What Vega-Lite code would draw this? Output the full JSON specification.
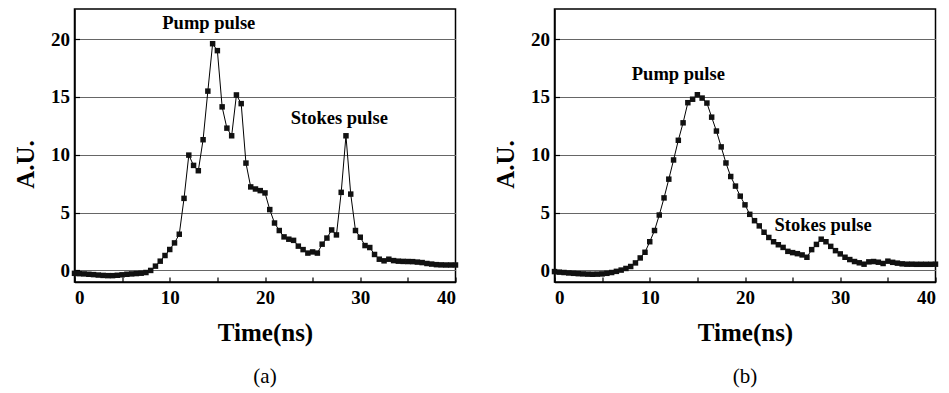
{
  "$schema": "https://vega.github.io/schema/vega-lite/v6.json",
  "background": "white",
  "padding": {"top": 8, "left": 12.5, "right": 2, "bottom": 5},
  "spacing": 33,
  "config": {
    "view": {"stroke": "black", "strokeWidth": 1.5},
    "font": "Liberation Serif",
    "axis": {
      "labelFont": "Liberation Serif", "labelFontWeight": "bold", "labelFontSize": 19, "labelColor": "black",
      "titleFont": "Liberation Serif", "titleFontWeight": "bold", "titleFontSize": 25, "titleColor": "black",
      "domainColor": "black", "domainWidth": 1.5, "tickColor": "black", "tickWidth": 1.2, "tickSize": -5,
      "gridColor": "#666", "gridWidth": 1
    }
  },
  "datasets": {
    "pts": [
      {"panel":"a","t":0,"v":-0.25},{"panel":"a","t":0.5,"v":-0.28},{"panel":"a","t":1,"v":-0.3},{"panel":"a","t":1.5,"v":-0.33},{"panel":"a","t":2,"v":-0.36},{"panel":"a","t":2.5,"v":-0.4},{"panel":"a","t":3,"v":-0.43},{"panel":"a","t":3.5,"v":-0.45},{"panel":"a","t":4,"v":-0.45},{"panel":"a","t":4.5,"v":-0.42},{"panel":"a","t":5,"v":-0.38},{"panel":"a","t":5.5,"v":-0.33},{"panel":"a","t":6,"v":-0.3},{"panel":"a","t":6.5,"v":-0.27},{"panel":"a","t":7,"v":-0.24},{"panel":"a","t":7.5,"v":-0.18},{"panel":"a","t":8,"v":0.0},{"panel":"a","t":8.5,"v":0.37},{"panel":"a","t":9,"v":0.8},{"panel":"a","t":9.5,"v":1.29},{"panel":"a","t":10,"v":1.81},{"panel":"a","t":10.5,"v":2.38},{"panel":"a","t":11,"v":3.13},{"panel":"a","t":11.5,"v":6.23},{"panel":"a","t":12,"v":9.97},{"panel":"a","t":12.5,"v":9.08},{"panel":"a","t":13,"v":8.62},{"panel":"a","t":13.5,"v":11.3},{"panel":"a","t":14,"v":15.5},{"panel":"a","t":14.5,"v":19.6},{"panel":"a","t":15,"v":19.0},{"panel":"a","t":15.5,"v":14.14},{"panel":"a","t":16,"v":12.3},{"panel":"a","t":16.5,"v":11.64},{"panel":"a","t":17,"v":15.17},{"panel":"a","t":17.5,"v":14.42},{"panel":"a","t":18,"v":9.28},{"panel":"a","t":18.5,"v":7.22},{"panel":"a","t":19,"v":7.04},{"panel":"a","t":19.5,"v":6.9},{"panel":"a","t":20,"v":6.7},{"panel":"a","t":20.5,"v":5.26},{"panel":"a","t":21,"v":4.1},{"panel":"a","t":21.5,"v":3.45},{"panel":"a","t":22,"v":2.9},{"panel":"a","t":22.5,"v":2.7},{"panel":"a","t":23,"v":2.6},{"panel":"a","t":23.5,"v":2.1},{"panel":"a","t":24,"v":1.8},{"panel":"a","t":24.5,"v":1.5},{"panel":"a","t":25,"v":1.6},{"panel":"a","t":25.5,"v":1.5},{"panel":"a","t":26,"v":2.27},{"panel":"a","t":26.5,"v":2.8},{"panel":"a","t":27,"v":3.5},{"panel":"a","t":27.5,"v":3.07},{"panel":"a","t":28,"v":6.75},{"panel":"a","t":28.5,"v":11.64},{"panel":"a","t":29,"v":6.6},{"panel":"a","t":29.5,"v":3.45},{"panel":"a","t":30,"v":2.87},{"panel":"a","t":30.5,"v":2.15},{"panel":"a","t":31,"v":1.98},{"panel":"a","t":31.5,"v":1.38},{"panel":"a","t":32,"v":0.97},{"panel":"a","t":32.5,"v":0.83},{"panel":"a","t":33,"v":0.97},{"panel":"a","t":33.5,"v":0.85},{"panel":"a","t":34,"v":0.8},{"panel":"a","t":34.5,"v":0.78},{"panel":"a","t":35,"v":0.77},{"panel":"a","t":35.5,"v":0.76},{"panel":"a","t":36,"v":0.72},{"panel":"a","t":36.5,"v":0.68},{"panel":"a","t":37,"v":0.6},{"panel":"a","t":37.5,"v":0.55},{"panel":"a","t":38,"v":0.5},{"panel":"a","t":38.5,"v":0.48},{"panel":"a","t":39,"v":0.47},{"panel":"a","t":39.5,"v":0.47},{"panel":"a","t":40,"v":0.47},
      {"panel":"b","t":0,"v":-0.1},{"panel":"b","t":0.5,"v":-0.15},{"panel":"b","t":1,"v":-0.18},{"panel":"b","t":1.5,"v":-0.22},{"panel":"b","t":2,"v":-0.25},{"panel":"b","t":2.5,"v":-0.28},{"panel":"b","t":3,"v":-0.3},{"panel":"b","t":3.5,"v":-0.32},{"panel":"b","t":4,"v":-0.33},{"panel":"b","t":4.5,"v":-0.32},{"panel":"b","t":5,"v":-0.3},{"panel":"b","t":5.5,"v":-0.25},{"panel":"b","t":6,"v":-0.18},{"panel":"b","t":6.5,"v":-0.08},{"panel":"b","t":7,"v":0.03},{"panel":"b","t":7.5,"v":0.17},{"panel":"b","t":8,"v":0.34},{"panel":"b","t":8.5,"v":0.65},{"panel":"b","t":9,"v":1.08},{"panel":"b","t":9.5,"v":1.57},{"panel":"b","t":10,"v":2.48},{"panel":"b","t":10.5,"v":3.45},{"panel":"b","t":11,"v":4.79},{"panel":"b","t":11.5,"v":6.27},{"panel":"b","t":12,"v":7.89},{"panel":"b","t":12.5,"v":9.55},{"panel":"b","t":13,"v":11.25},{"panel":"b","t":13.5,"v":12.76},{"panel":"b","t":14,"v":14.5},{"panel":"b","t":14.5,"v":14.8},{"panel":"b","t":15,"v":15.19},{"panel":"b","t":15.5,"v":14.9},{"panel":"b","t":16,"v":14.47},{"panel":"b","t":16.5,"v":13.25},{"panel":"b","t":17,"v":12.05},{"panel":"b","t":17.5,"v":10.68},{"panel":"b","t":18,"v":9.29},{"panel":"b","t":18.5,"v":8.12},{"panel":"b","t":19,"v":7.29},{"panel":"b","t":19.5,"v":6.42},{"panel":"b","t":20,"v":5.67},{"panel":"b","t":20.5,"v":4.85},{"panel":"b","t":21,"v":4.3},{"panel":"b","t":21.5,"v":3.85},{"panel":"b","t":22,"v":3.3},{"panel":"b","t":22.5,"v":2.85},{"panel":"b","t":23,"v":2.48},{"panel":"b","t":23.5,"v":2.22},{"panel":"b","t":24,"v":1.99},{"panel":"b","t":24.5,"v":1.65},{"panel":"b","t":25,"v":1.54},{"panel":"b","t":25.5,"v":1.45},{"panel":"b","t":26,"v":1.34},{"panel":"b","t":26.5,"v":1.14},{"panel":"b","t":27,"v":1.8},{"panel":"b","t":27.5,"v":2.25},{"panel":"b","t":28,"v":2.7},{"panel":"b","t":28.5,"v":2.48},{"panel":"b","t":29,"v":2.08},{"panel":"b","t":29.5,"v":1.71},{"panel":"b","t":30,"v":1.43},{"panel":"b","t":30.5,"v":1.14},{"panel":"b","t":31,"v":0.94},{"panel":"b","t":31.5,"v":0.77},{"panel":"b","t":32,"v":0.66},{"panel":"b","t":32.5,"v":0.54},{"panel":"b","t":33,"v":0.74},{"panel":"b","t":33.5,"v":0.77},{"panel":"b","t":34,"v":0.71},{"panel":"b","t":34.5,"v":0.6},{"panel":"b","t":35,"v":0.8},{"panel":"b","t":35.5,"v":0.7},{"panel":"b","t":36,"v":0.63},{"panel":"b","t":36.5,"v":0.57},{"panel":"b","t":37,"v":0.54},{"panel":"b","t":37.5,"v":0.54},{"panel":"b","t":38,"v":0.53},{"panel":"b","t":38.5,"v":0.53},{"panel":"b","t":39,"v":0.53},{"panel":"b","t":39.5,"v":0.53},{"panel":"b","t":40,"v":0.54}
    ],
    "labels": [
      {"panel":"a","t":14.1,"v":21.4,"text":"Pump pulse"},
      {"panel":"a","t":27.8,"v":13.2,"text":"Stokes pulse"},
      {"panel":"b","t":13.0,"v":17.0,"text":"Pump pulse"},
      {"panel":"b","t":28.2,"v":3.9,"text":"Stokes pulse"}
    ]
  },
  "hconcat": [
    {
      "width": 381, "height": 273,
      "title": {"text": "(a)", "orient": "bottom", "font": "Liberation Serif", "fontSize": 21, "fontWeight": "normal", "color": "black", "offset": 21},
      "layer": [
        {
          "data": {"name": "pts"},
          "transform": [{"filter": "datum.panel === 'a'"}],
          "mark": {"type": "line", "color": "black", "strokeWidth": 1},
          "encoding": {
            "x": {"field": "t", "type": "quantitative", "scale": {"domain": [0, 40], "nice": false},
              "axis": {"title": "Time(ns)", "values": [0,5,10,15,20,25,30,35,40], "labelExpr": "datum.value % 10 === 0 ? datum.label : ''", "grid": false, "labelPadding": 11, "titlePadding": 13}},
            "y": {"field": "v", "type": "quantitative", "scale": {"domain": [-1.0, 22.6], "nice": false, "zero": false},
              "axis": {"title": "A.U.", "titleY": 155, "values": [0,2.5,5,7.5,10,12.5,15,17.5,20], "labelExpr": "datum.value % 5 === 0 ? datum.label : ''", "grid": true,
                "gridOpacity": {"condition": {"test": "datum.value % 5 !== 0", "value": 0}, "value": 1}, "labelPadding": 10, "titlePadding": 12}}
          }
        },
        {
          "data": {"name": "pts"},
          "transform": [{"filter": "datum.panel === 'a'"}],
          "mark": {"type": "point", "shape": "square", "filled": true, "color": "#111", "size": 30, "opacity": 1},
          "encoding": {"x": {"field": "t", "type": "quantitative"}, "y": {"field": "v", "type": "quantitative"}}
        },
        {
          "data": {"name": "labels"},
          "transform": [{"filter": "datum.panel === 'a'"}],
          "mark": {"type": "text", "font": "Liberation Serif", "fontWeight": "bold", "fontSize": 18.5, "color": "black"},
          "encoding": {"x": {"field": "t", "type": "quantitative"}, "y": {"field": "v", "type": "quantitative"}, "text": {"field": "text"}}
        }
      ]
    },
    {
      "width": 381, "height": 273,
      "title": {"text": "(b)", "orient": "bottom", "font": "Liberation Serif", "fontSize": 21, "fontWeight": "normal", "color": "black", "offset": 21},
      "layer": [
        {
          "data": {"name": "pts"},
          "transform": [{"filter": "datum.panel === 'b'"}],
          "mark": {"type": "line", "color": "black", "strokeWidth": 1},
          "encoding": {
            "x": {"field": "t", "type": "quantitative", "scale": {"domain": [0, 40], "nice": false},
              "axis": {"title": "Time(ns)", "values": [0,5,10,15,20,25,30,35,40], "labelExpr": "datum.value % 10 === 0 ? datum.label : ''", "grid": false, "labelPadding": 11, "titlePadding": 13}},
            "y": {"field": "v", "type": "quantitative", "scale": {"domain": [-1.0, 22.6], "nice": false, "zero": false},
              "axis": {"title": "A.U.", "titleY": 155, "values": [0,2.5,5,7.5,10,12.5,15,17.5,20], "labelExpr": "datum.value % 5 === 0 ? datum.label : ''", "grid": true,
                "gridOpacity": {"condition": {"test": "datum.value % 5 !== 0", "value": 0}, "value": 1}, "labelPadding": 10, "titlePadding": 12}}
          }
        },
        {
          "data": {"name": "pts"},
          "transform": [{"filter": "datum.panel === 'b'"}],
          "mark": {"type": "point", "shape": "square", "filled": true, "color": "#111", "size": 30, "opacity": 1},
          "encoding": {"x": {"field": "t", "type": "quantitative"}, "y": {"field": "v", "type": "quantitative"}}
        },
        {
          "data": {"name": "labels"},
          "transform": [{"filter": "datum.panel === 'b'"}],
          "mark": {"type": "text", "font": "Liberation Serif", "fontWeight": "bold", "fontSize": 18.5, "color": "black"},
          "encoding": {"x": {"field": "t", "type": "quantitative"}, "y": {"field": "v", "type": "quantitative"}, "text": {"field": "text"}}
        }
      ]
    }
  ]
}
